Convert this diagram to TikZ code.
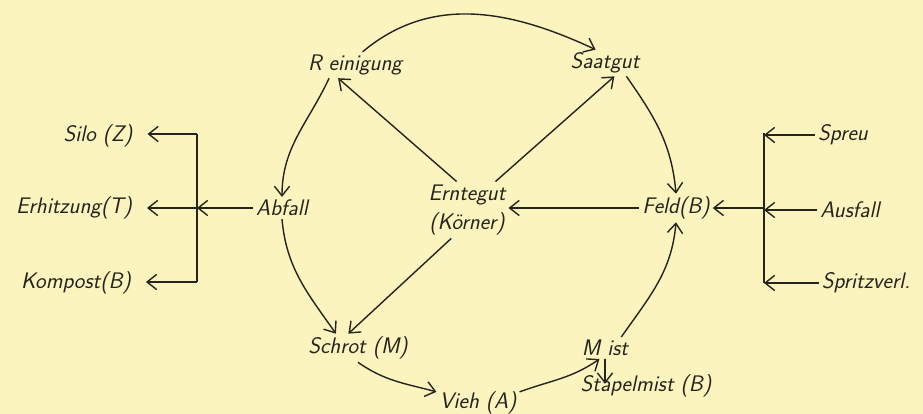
\documentclass[tikz,border=0pt]{standalone}
\usepackage{tikz}
\usetikzlibrary{arrows.meta}
\definecolor{paper}{RGB}{251,244,190}
\definecolor{ink}{RGB}{38,36,30}

\begin{document}
\begin{tikzpicture}[x=0.025cm, y=0.025cm, >={Straight Barb[length=2.4mm,width=3.8mm]},
  font=\fontsize{16}{21}\selectfont\sffamily\slshape, every node/.style={inner sep=2pt, text=ink},
  flow/.style={draw=ink, line width=1pt}, gap/.style={shorten >=3mm}]
  \fill[paper] (0,0) rectangle (923,414);
  \useasboundingbox (0,0) rectangle (923,414);
  % Kreislauf
  \node (rein) at (355,349) {R einigung};
  \node (saat) at (605,351) {Saatgut};
  \node[align=center] (ernte) at (467,204) {Erntegut\\(K\"orner)};
  \node (abf) at (282,206) {Abfall};
  \node (feld) at (676,206) {Feld(B)};
  \node (schrot) at (358,66) {Schrot (M)};
  \node (vieh) at (478,11) {Vieh (A)};
  \node (mist) at (605,66) {M ist};
  \node (stapel) at (646,28) {Stapelmist (B)};
  % links
  \node (silo) at (98,278) {Silo (Z)};
  \node (erh) at (74,206) {Erhitzung(T)};
  \node (komp) at (76,131) {Kompost(B)};
  \coordinate (lt) at (197,280); \coordinate (lm) at (197,206); \coordinate (lb) at (197,132);
  % rechts
  \node (spreu) at (843,279) {Spreu};
  \node (ausf) at (850,204) {Ausfall};
  \node (spritz) at (866,131) {Spritzverl.};
  \coordinate (rt) at (764,281); \coordinate (rm) at (764,206); \coordinate (rb) at (764,131);

  \draw[flow,->] (rein.60) to[out=40,in=155] (saat.125);
  \draw[flow,->] (ernte.110) -- (rein.-142);
  \draw[flow,->] (ernte.45) -- (saat.-55);
  \draw[flow,->] (ernte.-119) -- (schrot.124);
  \draw[flow,->] (rein.207) to[out=-115,in=90] (abf.north);
  \draw[flow,->] (abf.south) to[out=-85,in=125] (schrot.147);
  \draw[flow,->] (saat.-32) to[out=-55,in=95] (feld.north);
  \draw[flow,->] (mist.34) to[out=55,in=-95] (feld.south);
  \draw[flow,->] (feld.west) -- (feld.west -| ernte.east);
  \draw[flow,->] (schrot.south) to[out=-35,in=165] (vieh.165);
  \draw[flow,->] (vieh.15) to[out=20,in=-145] (mist.-117);
  \draw[flow,->,shorten >=-3mm] (mist.south) -- (mist.south |- stapel.north);

  \draw[flow] (lt) -- (lb);
  \draw[flow,->] (abf.west) -- (lm);
  \draw[flow,->,gap] (lt) -- (silo.east |- lt);
  \draw[flow,->,gap] (lm) -- (erh.east);
  \draw[flow,->,gap] (lb) -- (komp.east |- lb);

  \draw[flow] (rt) -- (rb);
  \draw[flow,->] (spreu.west) -- (rt |- spreu.west);
  \draw[flow,->] (ausf.west) -- (rm |- ausf.west);
  \draw[flow,->] (spritz.west) -- (rb |- spritz.west);
  \draw[flow,->] (rm) -- (feld.east);
\end{tikzpicture}
\end{document}
